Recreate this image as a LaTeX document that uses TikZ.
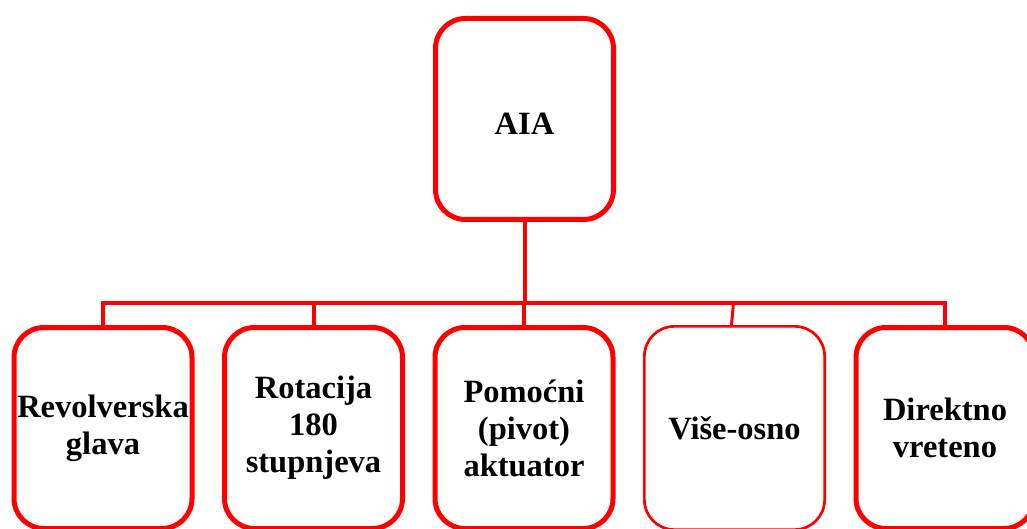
\documentclass[tikz,border=0pt]{standalone}
\usepackage{fontspec}
\setmainfont{Liberation Serif}
\usetikzlibrary{positioning, calc}
\tikzset{
  kutija/.style={rectangle, draw=red, fill=white, line width=5pt, rounded corners=30pt,
                 minimum width=178pt, minimum height=201pt, inner sep=2pt,
                 align=center, font=\fontsize{32.5}{37}\selectfont\bfseries},
  tanka/.style={kutija, line width=2.7pt, minimum width=180.3pt, minimum height=203.3pt},
  veza/.style={draw=red, line width=4pt}
}
\begin{document}
\begin{tikzpicture}[x=1pt, y=1pt, node distance=27.5pt]
        \useasboundingbox (0,0) rectangle (1027,528);
        \node[kutija] (aia) at (524.5,409) {\raisebox{-5pt}[\height][\depth]{AIA}};
        \node[kutija] (rev) at (103,100) {Revolverska\\glava};
        \node[kutija, right=of rev] (rot) {Rotacija\\180\\stupnjeva};
        \node[kutija, right=of rot] (piv) {Pomoćni\\(pivot)\\aktuator};
        \node[tanka, right=of piv] (vis) {Više-osno};
        \node[kutija, right=of vis] (dir) {Direktno\\vreteno};
        \coordinate (grana) at (524.5,225);
        \draw[veza] (aia.south) -- (grana);
        \draw[veza] (rev.north) |- (grana) -| (dir.north);
        \foreach \k in {rot, piv}
          \draw[veza] (\k.north) -- (\k.north |- grana);
        \draw[veza, line width=3pt] ([xshift=-3pt]vis.north) -- ([xshift=-1pt]vis.north |- grana);
      \end{tikzpicture}
\end{document}
